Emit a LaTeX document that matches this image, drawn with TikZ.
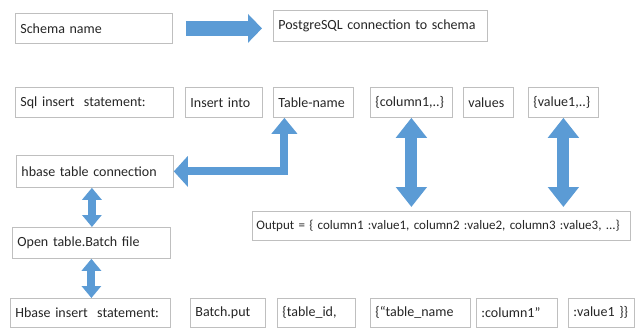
\documentclass[tikz,border=0pt]{standalone}
\usepackage{fontspec}
\setmainfont{Carlito}
\usetikzlibrary{arrows.meta}
\definecolor{arr}{HTML}{5B9BD5}
\definecolor{bord}{HTML}{BFBFBF}
\definecolor{txt}{HTML}{262626}
\begin{document}
\begin{tikzpicture}[x=1pt,y=-1pt,
  bx/.style={draw=bord, line width=0.8pt, fill=white, anchor=north west,
    inner xsep=5pt, inner ysep=0pt, align=left,
    font=\fontsize{14}{16}\selectfont, text=txt},
  blk/.style={draw=arr, line join=miter},
]
\useasboundingbox (0,0) rectangle (636,327);

% row 1
\node[bx, text width=147pt, minimum height=30pt] (schema) at (15,13) {Schema name};
\node[bx, text width=204pt, minimum height=31pt] (pg) at (273,10) {PostgreSQL connection to schema};

% row 2
\node[bx, text width=148pt, minimum height=30pt] (sql) at (15,87) {Sql insert~ statement:};
\node[bx, text width=67pt, minimum height=30pt] (ins) at (185,87) {Insert into};
\node[bx, text width=70pt, minimum height=30pt] (tname) at (273,87) {Table-name};
\node[bx, text width=72pt, minimum height=30pt] (col) at (370,87) {\{column1,..\}};
\node[bx, text width=40pt, minimum height=30pt] (vals) at (463,87) {values};
\node[bx, text width=60pt, minimum height=30pt] (val1) at (528,87) {\{value1,..\}};

% left column
\node[bx, text width=147pt, minimum height=32pt] (hbase) at (16,155) {hbase table connection};
\node[bx, text width=148pt, minimum height=31pt] (open) at (12,227) {Open table.Batch file};

% output
\node[bx, text width=370pt, minimum height=29pt, inner xsep=4pt,
  font=\fontsize{13}{16}\selectfont] (out) at (252,211)
  {\mbox{Output = \{ column1 :value1, column2 :value2, column3 :value3, ...\}}};

% bottom row
\node[bx, text width=150pt, minimum height=28.5pt] (hins) at (10,298) {Hbase insert~ statement:};
\node[bx, text width=65pt, minimum height=28.5pt] (bput) at (190,298) {Batch.put};
\node[bx, text width=68pt, minimum height=28.5pt] (tid) at (277,298) {\{table\_id,};
\node[bx, text width=90pt, minimum height=28.5pt] (tn2) at (370,298) {\{“table\_name};
\node[bx, text width=71pt, minimum height=28.5pt] (colq) at (476,298) {:column1”};
\node[bx, text width=56pt, minimum height=28.5pt] (v1) at (568,298) {:value1 \}\}};

% arrows
\draw[blk, line width=15pt, -{Triangle[width=28pt,length=14pt]},
  shorten <=13pt, shorten >=11pt] (schema.east) -- (schema.east -| pg.west);

\draw[blk, line width=8pt,
  {Triangle[width=30pt,length=14pt]}-{Triangle[width=25pt,length=16pt]}]
  (hbase.east) -| ([xshift=-29pt]tname.south);

\draw[blk, line width=8pt,
  {Triangle[width=19pt,length=12pt]}-{Triangle[width=19pt,length=12pt]}]
  ([xshift=-3pt]hbase.south) -- ([xshift=-3pt]hbase.south |- open.north);
\draw[blk, line width=8pt,
  {Triangle[width=19pt,length=12pt]}-{Triangle[width=19pt,length=12pt]}]
  (open.south) -- (open.south |- hins.north);

\draw[blk, line width=12pt,
  {Triangle[width=30pt,length=20pt]}-{Triangle[width=30pt,length=20pt]},
  shorten >=4pt] (col.south) -- (col.south |- out.north);
\draw[blk, line width=12pt,
  {Triangle[width=30pt,length=20pt]}-{Triangle[width=30pt,length=20pt]},
  shorten >=4pt] (val1.south) -- (val1.south |- out.north);
\end{tikzpicture}
\end{document}
